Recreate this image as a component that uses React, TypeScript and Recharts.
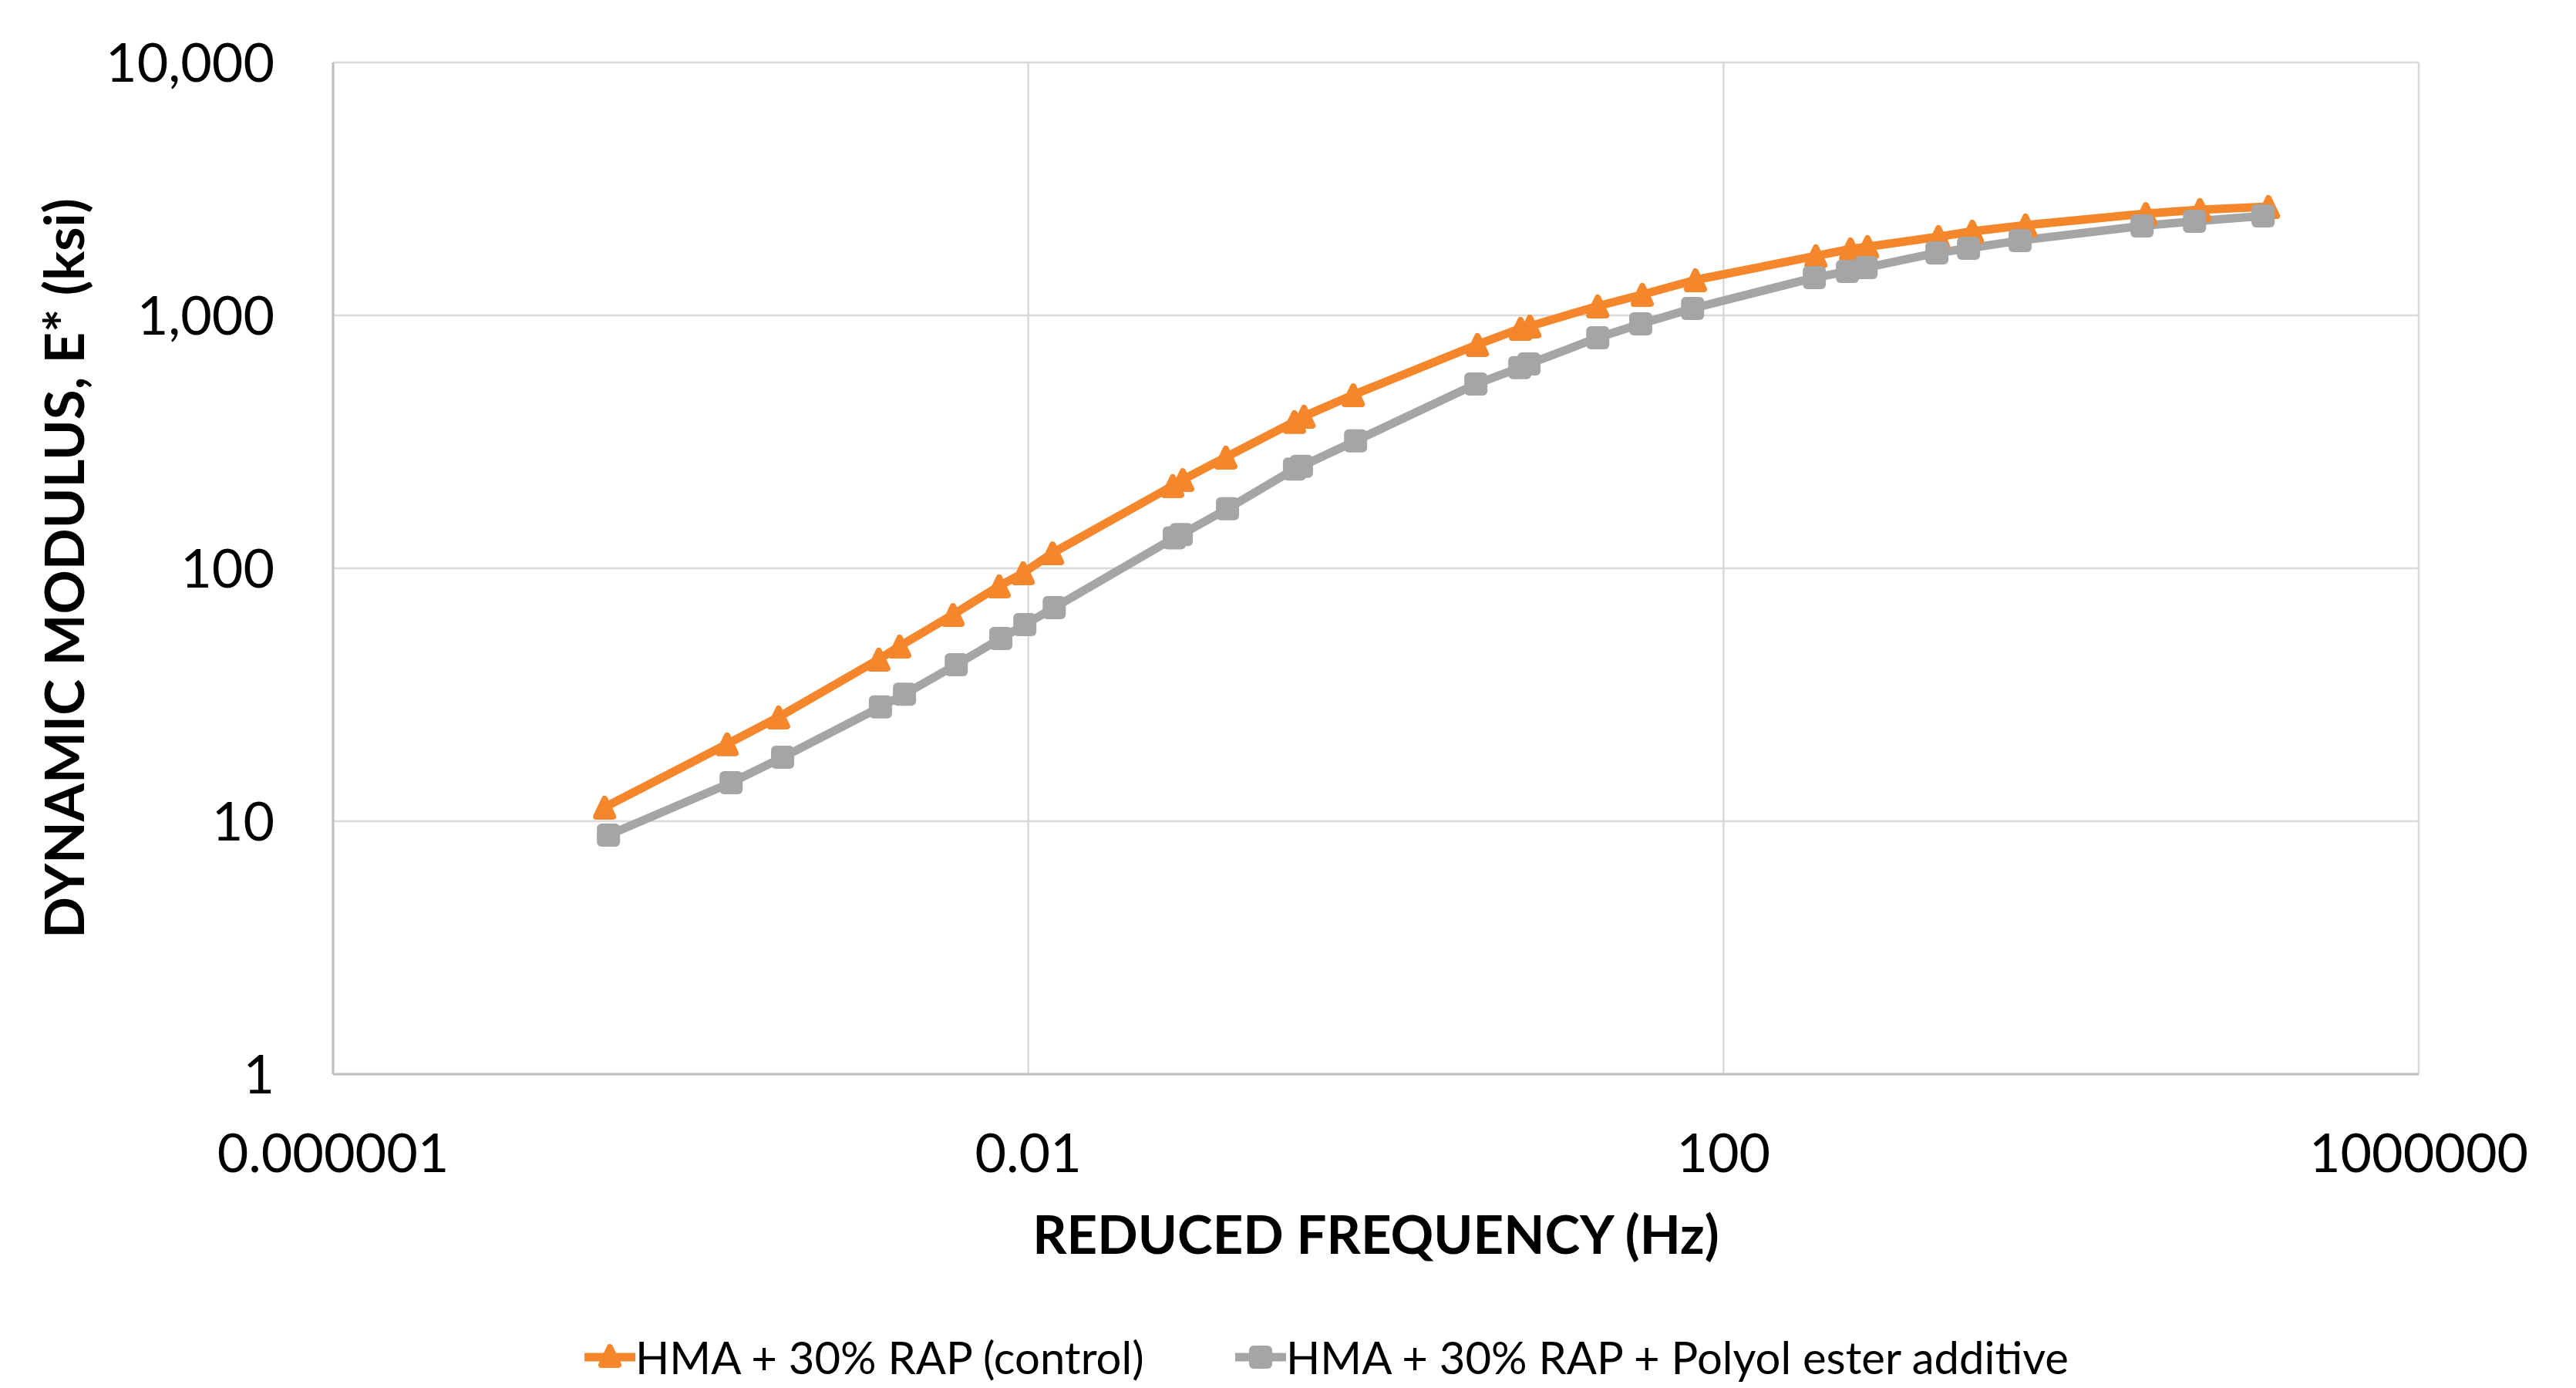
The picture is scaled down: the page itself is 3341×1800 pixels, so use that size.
import React from 'react'
import { LineChart, Line, XAxis, YAxis, CartesianGrid } from 'recharts'

// reduced frequency (Hz) and |E*| (ksi)
const controlFreq = [
  3.65e-5, 1.85e-4, 3.66e-4, 1.38e-3, 1.82e-3, 3.69e-3, 6.8e-3, 9.35e-3, 1.38e-2, 0.0678,
  0.0774, 0.137, 0.34, 0.386, 0.741, 3.84, 6.8, 7.69, 18.9, 34.1,
  69.0, 340, 538, 674, 1725, 2704, 5470, 26900, 55100, 136700,
]
const controlModulus = [
  11.35, 20.2, 25.8, 43.7, 49.2, 65.6, 85.1, 95.9, 115, 212,
  224, 275, 380, 399, 485, 766, 888, 907, 1088, 1209,
  1381, 1718, 1829, 1868, 2047, 2149, 2274, 2525, 2617, 2690,
]
const polyolFreq = [
  3.84e-5, 1.95e-4, 3.86e-4, 1.41e-3, 1.94e-3, 3.85e-3, 6.95e-3, 9.55e-3, 1.41e-2, 0.0692,
  0.0759, 0.14, 0.34, 0.373, 0.764, 3.76, 6.73, 7.6, 18.9, 33.4,
  66.4, 333, 517, 661, 1690, 2570, 5090, 25600, 51300, 127300,
]
const polyolModulus = [
  8.81, 14.2, 17.9, 28.3, 31.8, 41.6, 52.8, 59.9, 69.9, 132,
  136, 172, 247, 253, 319, 535, 621, 643, 816, 926,
  1065, 1410, 1492, 1545, 1766, 1842, 1977, 2259, 2355, 2474,
]

const xTicks = [0.000001, 0.01, 100, 1000000]
const yTicks = [1, 10, 100, 1000, 10000]
const seriesNames = ['HMA + 30% RAP (control)', 'HMA + 30% RAP + Polyol ester additive']
const xTitle = 'REDUCED FREQUENCY (Hz)'
const yTitle = 'DYNAMIC MODULUS, E* (ksi)'

const ORANGE = '#F4862B'
const GRAY = '#A5A5A5'

const toPoints = (f: number[], e: number[]) => f.map((x, i) => ({ f: x, e: e[i] }))
const controlData = toPoints(controlFreq, controlModulus)
const polyolData = toPoints(polyolFreq, polyolModulus)

function trianglePath(cx: number, cy: number) {
  return `M${cx},${cy - 11} L${cx + 11},${cy + 12} L${cx - 11},${cy + 12} Z`
}

const renderTriangle = (p: any) => {
  if (p.cx == null || p.cy == null) return <g key={`t-${p.index}`} />
  return (
    <path
      key={`t-${p.index}`}
      d={trianglePath(p.cx, p.cy)}
      fill={ORANGE}
      stroke={ORANGE}
      strokeWidth={8}
      strokeLinejoin="round"
    />
  )
}

const renderSquare = (p: any) => {
  if (p.cx == null || p.cy == null) return <g key={`s-${p.index}`} />
  return (
    <rect
      key={`s-${p.index}`}
      x={p.cx - 15}
      y={p.cy - 15}
      width={30}
      height={30}
      rx={6}
      fill={GRAY}
    />
  )
}

const renderYTitle = (props: any) => {
  const vb = props.viewBox
  const cx = vb.x + 81
  const cy = vb.y + vb.height / 2
  return (
    <text
      x={cx}
      y={cy}
      transform={`rotate(-90 ${cx} ${cy})`}
      textAnchor="middle"
      dominantBaseline="central"
      style={{ ...s.title, fontSize: 71 }}
    >
      {yTitle}
    </text>
  )
}

const renderXTitle = (props: any) => {
  const vb = props.viewBox
  return (
    <text x={vb.x + vb.width / 2} y={vb.y + 233} textAnchor="middle" style={s.title}>
      {xTitle}
    </text>
  )
}

function LegendIcon({ color, square }: { color: string; square: boolean }) {
  return (
    <svg width={66} height={40} style={{ display: 'block' }}>
      <line x1={2} y1={20} x2={64} y2={20} stroke={color} strokeWidth={11} strokeLinecap="round" />
      {square ? (
        <rect x={18} y={5} width={30} height={30} rx={6} fill={color} />
      ) : (
        <path d={trianglePath(33, 18)} fill={color} stroke={color} strokeWidth={8} strokeLinejoin="round" />
      )}
    </svg>
  )
}

export default function App() {
  return (
    <div style={s.page}>
      <LineChart
        width={3341}
        height={1800}
        margin={{ top: 81, right: 204, left: 0, bottom: 167 }}
      >
        <CartesianGrid stroke="#D9D9D9" strokeWidth={2.5} />
        <XAxis
          dataKey="f"
          type="number"
          scale="log"
          domain={[0.000001, 1000000]}
          ticks={xTicks}
          interval={0}
          allowDataOverflow
          height={240}
          tickSize={0}
          tickMargin={77}
          axisLine={{ stroke: '#BFBFBF', strokeWidth: 3 }}
          tickLine={false}
          tick={{ fill: '#000', fontSize: 70 }}
          tickFormatter={(v: number) => String(v)}
          label={renderXTitle}
        />
        <YAxis
          dataKey="e"
          type="number"
          scale="log"
          domain={[1, 10000]}
          ticks={yTicks}
          interval={0}
          allowDataOverflow
          width={432}
          tickSize={0}
          tickMargin={76}
          axisLine={{ stroke: '#BFBFBF', strokeWidth: 3 }}
          tickLine={false}
          tick={{ fill: '#000', fontSize: 70 }}
          tickFormatter={(v: number) => v.toLocaleString('en-US')}
          label={renderYTitle}
        />
        <Line
          data={controlData}
          dataKey="e"
          name={seriesNames[0]}
          type="linear"
          stroke={ORANGE}
          strokeWidth={11}
          strokeLinejoin="round"
          dot={renderTriangle}
          activeDot={false}
          isAnimationActive={false}
        />
        <Line
          data={polyolData}
          dataKey="e"
          name={seriesNames[1]}
          type="linear"
          stroke={GRAY}
          strokeWidth={11}
          strokeLinejoin="round"
          dot={renderSquare}
          activeDot={false}
          isAnimationActive={false}
        />
      </LineChart>

      {/* legend sits right at the bottom edge */}
      <div style={{ ...s.legendItem, left: 758 }}>
        <LegendIcon color={ORANGE} square={false} />
        <span style={s.legendText}>{seriesNames[0]}</span>
      </div>
      <div style={{ ...s.legendItem, left: 1602 }}>
        <LegendIcon color={GRAY} square />
        <span style={s.legendText}>{seriesNames[1]}</span>
      </div>
    </div>
  )
}

const s: Record<string, React.CSSProperties> = {
  page: {
    position: 'absolute',
    left: 0,
    top: 0,
    width: 3341,
    height: 1800,
    overflow: 'hidden',
    background: '#fff',
    fontFamily: 'Lato, "Open Sans", sans-serif',
  },
  title: { fontSize: 69, fontWeight: 700, fill: '#000' },
  legendItem: {
    position: 'absolute',
    top: 1728,
    display: 'flex',
    alignItems: 'center',
    whiteSpace: 'nowrap',
  },
  legendText: { fontSize: 58, lineHeight: '64px', color: '#000' },
}
